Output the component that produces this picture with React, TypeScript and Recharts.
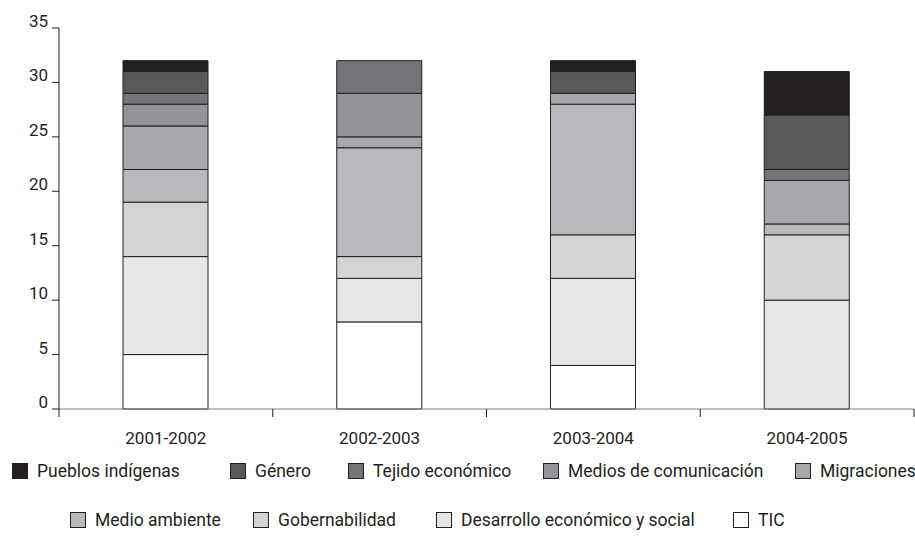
import { BarChart, Bar, XAxis, YAxis } from 'recharts';

const periods = ['2001-2002', '2002-2003', '2003-2004', '2004-2005'];

// stacked from the bottom up
const tic = [5, 8, 4, 0];
const desarrollo = [9, 4, 8, 10];
const gobernabilidad = [5, 2, 4, 6];
const medioAmbiente = [3, 10, 12, 1];
const migraciones = [4, 1, 1, 4];
const medios = [2, 4, 0, 0];
const tejido = [1, 3, 0, 1];
const genero = [2, 0, 2, 5];
const pueblos = [1, 0, 1, 4];

const yTicks = [0, 5, 10, 15, 20, 25, 30, 35];

const SERIES = [
  { key: 'tic', name: 'TIC', values: tic, color: '#ffffff' },
  { key: 'desarrollo', name: 'Desarrollo económico y social', values: desarrollo, color: '#e5e6e8' },
  { key: 'gobernabilidad', name: 'Gobernabilidad', values: gobernabilidad, color: '#d3d4d6' },
  { key: 'medioAmbiente', name: 'Medio ambiente', values: medioAmbiente, color: '#b8b9bc' },
  { key: 'migraciones', name: 'Migraciones', values: migraciones, color: '#a7a8ab' },
  { key: 'medios', name: 'Medios de comunicación', values: medios, color: '#939497' },
  { key: 'tejido', name: 'Tejido económico', values: tejido, color: '#747578' },
  { key: 'genero', name: 'Género', values: genero, color: '#58595b' },
  { key: 'pueblos', name: 'Pueblos indígenas', values: pueblos, color: '#231f20' },
];

const data = periods.map((p, i) => {
  const row: Record<string, string | number> = { period: p };
  SERIES.forEach((s) => { row[s.key] = s.values[i]; });
  return row;
});

const FONT = 'Roboto, "DejaVu Sans", sans-serif';
const INK = '#231f20';

// legend rows (top-down order) and where each row's swatches start
const legendRows = [
  { keys: ['pueblos', 'genero', 'tejido', 'medios', 'migraciones'], left: [12, 230, 348, 543, 795], top: 462 },
  { keys: ['medioAmbiente', 'gobernabilidad', 'desarrollo', 'tic'], left: [70, 253, 436, 733], top: 511 },
];

function CategoryTick(props: any) {
  const { x, y, payload, width, index } = props;
  const half = width / periods.length / 2;
  return (
    <g>
      {index === 0 && <line x1={x - half} y1={y} x2={x - half} y2={y + 8} stroke={INK} strokeWidth={1} />}
      <line x1={x + half} y1={y} x2={x + half} y2={y + 8} stroke={INK} strokeWidth={1} />
      <text x={x} y={y + 35} textAnchor="middle" fontSize={17} fontFamily={FONT} fill={INK}>
        {payload.value}
      </text>
    </g>
  );
}

function ValueTick(props: any) {
  const { x, y, payload } = props;
  return (
    <text x={x - 4} y={y - 1} textAnchor="end" fontSize={17} fontFamily={FONT} fill={INK}>
      {payload.value}
    </text>
  );
}

function ChartLegend() {
  return (
    <>
      {legendRows.map((row, r) =>
        row.keys.map((k, j) => {
          const s = SERIES.find((d) => d.key === k)!;
          return (
            <div
              key={`${r}-${k}`}
              style={{
                position: 'absolute',
                left: row.left[j],
                top: row.top,
                height: 17,
                display: 'flex',
                alignItems: 'center',
                whiteSpace: 'nowrap',
                fontFamily: FONT,
                fontSize: 17.5,
                color: INK,
              }}
            >
              <span
                style={{
                  display: 'inline-block',
                  width: 14,
                  height: 14,
                  background: s.color,
                  border: `1px solid ${INK}`,
                  marginRight: 9,
                }}
              />
              {s.name}
            </div>
          );
        })
      )}
    </>
  );
}

export default function App() {
  return (
    <div style={{ position: 'absolute', left: 0, top: 0, width: 915, height: 559, overflow: 'hidden', background: '#fff' }}>
      <BarChart
        width={915}
        height={559}
        data={data}
        margin={{ top: 28, right: 1, bottom: 120, left: 9 }}
      >
        <XAxis
          dataKey="period"
          axisLine={{ stroke: '#7d7d7d' }}
          tickLine={false}
          tickSize={0}
          tickMargin={0}
          tick={<CategoryTick />}
          interval={0}
          height={30}
        />
        <YAxis
          domain={[0, 35]}
          ticks={yTicks}
          width={50}
          axisLine={{ stroke: INK }}
          tickLine={{ stroke: INK }}
          tickSize={7}
          tickMargin={0}
          tick={<ValueTick />}
        />
        {SERIES.map((s) => (
          <Bar
            key={s.key}
            dataKey={s.key}
            name={s.name}
            stackId="a"
            fill={s.color}
            stroke={INK}
            strokeWidth={1}
            barSize={85}
            isAnimationActive={false}
          />
        ))}
      </BarChart>
      <ChartLegend />
    </div>
  );
}
